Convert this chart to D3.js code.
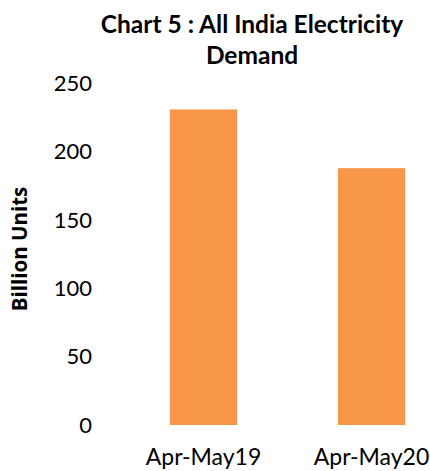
<!DOCTYPE html>
<html>
<head>
<meta charset="utf-8">
<script src="https://cdn.jsdelivr.net/npm/d3@7"></script>
<style>
  body { margin: 0; background: #fff; }
  svg { display: block; font-family: Lato, "Open Sans", sans-serif; }
</style>
</head>
<body>
<div id="chart"></div>
<script>
const categories = ["Apr-May19", "Apr-May20"];
const demand = [231, 188];
const tickValues = [0, 50, 100, 150, 200, 250];
const titleLines = ["Chart 5 : All India Electricity", "Demand"];
const yLabel = "Billion Units";

const width = 430, height = 471;

const svg = d3.select("#chart")
  .append("svg")
  .attr("width", width)
  .attr("height", height);

const x = d3.scaleBand()
  .domain(categories)
  .range([119.5, 455.5])
  .paddingInner(0.6)
  .paddingOuter(0.3);

const y = d3.scaleLinear()
  .domain([0, 250])
  .range([425, 83.5]);

// bars
svg.append("g")
  .selectAll("rect")
  .data(categories)
  .enter().append("rect")
  .attr("x", d => x(d))
  .attr("y", (d, i) => y(demand[i]))
  .attr("width", x.bandwidth())
  .attr("height", (d, i) => y(0) - y(demand[i]))
  .attr("fill", "#F79646");

// y axis, no line, no ticks
const yAxis = svg.append("g")
  .attr("transform", "translate(100,0)")
  .call(d3.axisLeft(y).tickValues(tickValues).tickSize(0).tickPadding(8));
yAxis.select(".domain").remove();
yAxis.selectAll("text")
  .attr("font-family", "Lato, sans-serif")
  .attr("font-size", 22)
  .attr("fill", "#000");

// x axis labels (nudged up a bit so descenders stay inside)
const xAxis = svg.append("g")
  .attr("transform", "translate(0,448)")
  .call(d3.axisBottom(x).tickSize(0).tickPadding(0));
xAxis.select(".domain").remove();
xAxis.selectAll("text")
  .attr("font-family", "Lato, sans-serif")
  .attr("font-size", 23)
  .attr("dy", "0.72em")
  .attr("fill", "#000");

// title
svg.append("g")
  .selectAll("text")
  .data(titleLines)
  .enter().append("text")
  .attr("x", 252)
  .attr("y", (d, i) => 33 + i * 31)
  .attr("text-anchor", "middle")
  .attr("font-weight", "bold")
  .attr("font-size", 24.5)
  .text(d => d);

// y label
svg.append("text")
  .attr("transform", "translate(27,249) rotate(-90)")
  .attr("text-anchor", "middle")
  .attr("font-family", "'Open Sans', sans-serif")
  .attr("font-weight", "bold")
  .attr("font-size", 20.5)
  .text(yLabel);
</script>
</body>
</html>
